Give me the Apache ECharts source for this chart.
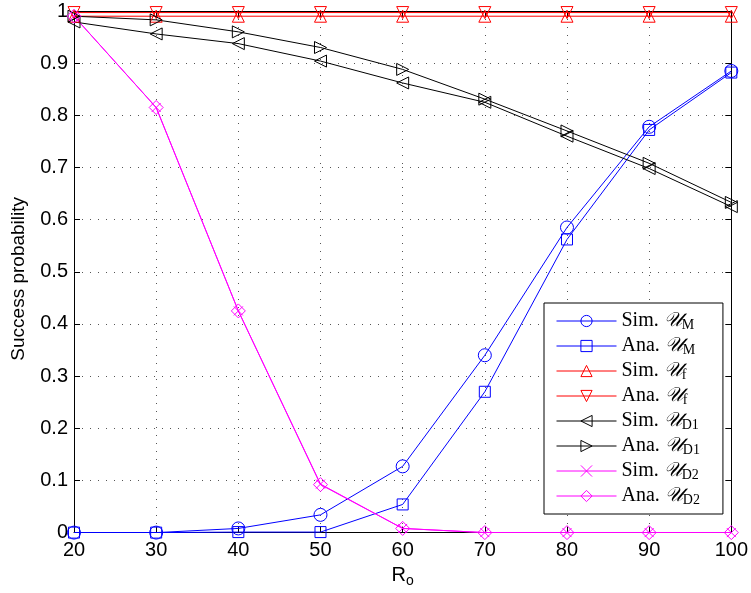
<!DOCTYPE html>
<html><head><meta charset="utf-8">
<script src="https://cdn.jsdelivr.net/npm/echarts@6/dist/echarts.min.js"></script>
<style>html,body{margin:0;padding:0;background:#fff}#c{width:751px;height:593px}</style>
</head><body><div id="c"></div>
<script>
const xCats = [20, 30, 40, 50, 60, 70, 80, 90, 100];
const simM  = [0, 0, 0.008, 0.034, 0.127, 0.34, 0.585, 0.778, 0.885];
const anaM  = [0, 0, 0.001, 0.001, 0.054, 0.27, 0.562, 0.772, 0.882];
const simF  = [0.99, 0.99, 0.99, 0.99, 0.99, 0.99, 0.99, 0.99, 0.99];
const anaF  = [0.997, 0.997, 0.997, 0.997, 0.997, 0.997, 0.997, 0.997, 0.997];
const simD1 = [0.979, 0.956, 0.9375, 0.904, 0.862, 0.825, 0.76, 0.698, 0.625];
const anaD1 = [0.99, 0.983, 0.96, 0.93, 0.888, 0.831, 0.77, 0.708, 0.633];
const simD2 = [0.99, 0.815, 0.425, 0.093, 0.008, 0, 0, 0, 0];
const anaD2 = [0.99, 0.815, 0.425, 0.092, 0.008, 0, 0, 0, 0];
const yTicks = [0, 0.1, 0.2, 0.3, 0.4, 0.5, 0.6, 0.7, 0.8, 0.9, 1];

const names = ['Sim. M','Ana. M','Sim. f','Ana. f','Sim. D1','Ana. D1','Sim. D2','Ana. D2'];
const labelMap = {
  'Sim. M': '{a|Sim. }{u|𝒰}{s|M}', 'Ana. M': '{a|Ana. }{u|𝒰}{s|M}',
  'Sim. f': '{a|Sim. }{u|𝒰}{s|f}', 'Ana. f': '{a|Ana. }{u|𝒰}{s|f}',
  'Sim. D1': '{a|Sim. }{u|𝒰}{s|D1}', 'Ana. D1': '{a|Ana. }{u|𝒰}{s|D1}',
  'Sim. D2': '{a|Sim. }{u|𝒰}{s|D2}', 'Ana. D2': '{a|Ana. }{u|𝒰}{s|D2}'
};
const X = 'path://M0,0L10,10M10,0L0,10';
function mk(name, data, color, symbol, rot, size) {
  return {
    name, type: 'line', data: xCats.map((x, i) => [x, data[i]]),
    symbol, symbolSize: size || 11, symbolRotate: rot || 0,
    showAllSymbol: true, animation: false,
    lineStyle: { color, width: 1 },
    itemStyle: { color: 'rgba(255,255,255,0)', borderColor: color, borderWidth: 1 },
    emphasis: { disabled: true }
  };
}
const chart = echarts.init(document.getElementById('c'));
const axisCommon = {
  axisLine: { show: true, onZero: false, lineStyle: { color: '#000', width: 1 } },
  axisTick: { show: true, inside: true, length: 6, lineStyle: { color: '#000' } },
};
const gridLine = { show: true, lineStyle: { color: '#555', type: [1, 7], width: 1 } };
chart.setOption({
  animation: false,
  backgroundColor: '#fff',
  grid: { left: 74, right: 17, top: 11, bottom: 60 },
  xAxis: [
    Object.assign({ type: 'value', min: 20, max: 100, interval: 10,
      axisLabel: { color: '#000', fontSize: 20, fontFamily: 'Liberation Sans', margin: 8 },
      splitLine: gridLine,
      name: '{r|R}{o|o}', nameLocation: 'middle', nameGap: 30,
      nameTextStyle: { rich: { r: { fontSize: 20, fontFamily: 'Liberation Sans', color: '#000' },
                               o: { fontSize: 14, fontFamily: 'Liberation Sans', color: '#000', padding: [11, 0, 0, 0] } } }
    }, axisCommon),
    Object.assign({ type: 'value', min: 20, max: 100, interval: 10, position: 'top',
      axisLabel: { show: false }, splitLine: { show: false } }, axisCommon)
  ],
  yAxis: [
    Object.assign({ type: 'value', min: 0, max: 1, interval: 0.1,
      axisLabel: { color: '#000', fontSize: 20, fontFamily: 'Liberation Sans', margin: 6,
        formatter: v => { const t = yTicks.find(k => Math.abs(k - v) < 1e-9); return t === undefined ? '' : String(t); } },
      splitLine: gridLine,
      name: 'Success probability', nameLocation: 'middle', nameGap: 46,
      nameTextStyle: { fontSize: 19, fontFamily: 'Liberation Sans', color: '#000', padding: [0, 0, 0, -14] }
    }, axisCommon),
    Object.assign({ type: 'value', min: 0, max: 1, interval: 0.1, position: 'right',
      axisLabel: { show: false }, splitLine: { show: false } }, axisCommon)
  ],
  legend: {
    data: names, orient: 'vertical', left: 544, top: 303,
    padding: [7, 23, 7, 12], itemGap: 3, itemWidth: 60, itemHeight: 14,
    backgroundColor: '#fff', borderColor: '#000', borderWidth: 1,
    lineStyle: { width: 1 },
    itemStyle: { borderWidth: 1 },
    formatter: n => labelMap[n],
    textStyle: { rich: {
      a: { fontSize: 20, fontFamily: 'Liberation Serif', color: '#000', lineHeight: 20 },
      u: { fontSize: 20, fontFamily: 'DejaVu Serif, Noto Sans, serif', fontStyle: 'italic', color: '#000', lineHeight: 20 },
      s: { fontSize: 14, fontFamily: 'Liberation Serif', color: '#000', lineHeight: 12, padding: [8, 0, 0, 0] }
    } }
  },
  series: [
    mk('Sim. M', simM, '#0000ff', 'circle', 0, 13),
    mk('Ana. M', anaM, '#0000ff', 'rect', 0, 11),
    mk('Sim. f', simF, '#ff0000', 'triangle', 0, 12),
    mk('Ana. f', anaF, '#ff0000', 'triangle', 180, 12),
    mk('Sim. D1', simD1, '#000000', 'triangle', 90, 12),
    mk('Ana. D1', anaD1, '#000000', 'triangle', -90, 12),
    mk('Sim. D2', simD2, '#ff00ff', X, 0, 9),
    mk('Ana. D2', anaD2, '#ff00ff', 'diamond', 0, 14)
  ]
});
</script></body></html>
